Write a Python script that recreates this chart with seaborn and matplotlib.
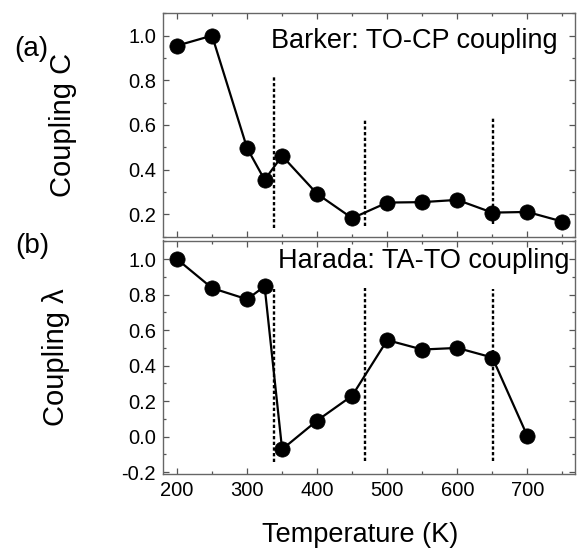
import matplotlib
matplotlib.use("Agg")
import matplotlib.pyplot as plt
from matplotlib.ticker import MultipleLocator, FormatStrFormatter
import seaborn as sns
import pandas as pd

temp_a = [200, 250, 300, 325, 350, 400, 450, 500, 550, 600, 650, 700, 750]
coupling_c = [0.955, 1.0, 0.496, 0.354, 0.461, 0.291, 0.182, 0.252, 0.254, 0.264, 0.207, 0.21, 0.167]
temp_b = [200, 250, 300, 325, 350, 400, 450, 500, 550, 600, 650, 700]
coupling_l = [1.0, 0.837, 0.774, 0.847, -0.071, 0.091, 0.231, 0.544, 0.491, 0.50, 0.446, 0.004]
vlines_x = [338, 469, 651]
vlines_a = [(0.137, 0.819), (0.145, 0.627), (0.157, 0.634)]
vlines_b = [(-0.142, 0.834), (-0.136, 0.838), (-0.136, 0.834)]

sns.set_style("ticks")
plt.rcParams['font.family'] = ['Liberation Sans', 'DejaVu Sans']
plt.rcParams['text.color'] = 'black'
plt.rcParams['axes.labelcolor'] = 'black'
plt.rcParams['xtick.labelcolor'] = 'black'
plt.rcParams['ytick.labelcolor'] = 'black'

W, H = 577, 548
fig = plt.figure(figsize=(W / 100, H / 100), dpi=100)
L, R = 163, 575
ax1 = fig.add_axes([L / W, 1 - 236.5 / H, (R - L) / W, (236.5 - 13.3) / H])
ax2 = fig.add_axes([L / W, 1 - 474 / H, (R - L) / W, (474 - 240.5) / H])

dfa = pd.DataFrame({"T": temp_a, "v": coupling_c})
dfb = pd.DataFrame({"T": temp_b, "v": coupling_l})
for ax, df in [(ax1, dfa), (ax2, dfb)]:
    sns.lineplot(data=df, x="T", y="v", ax=ax, color="black", lw=1.6,
                 marker="o", markersize=11, markeredgecolor="black",
                 markeredgewidth=0.5, sort=False)

for x, (y0, y1) in zip(vlines_x, vlines_a):
    ax1.plot([x, x], [y0, y1], ls=(0, (1.4, 1.0)), color="black", lw=1.7)
for x, (y0, y1) in zip(vlines_x, vlines_b):
    ax2.plot([x, x], [y0, y1], ls=(0, (1.4, 1.0)), color="black", lw=1.7)

ax1.set_ylim(0.1, 1.1)
ax2.set_ylim(-0.21, 1.105)
for ax in (ax1, ax2):
    ax.set_xlim(180, 768)
    ax.xaxis.set_major_locator(MultipleLocator(100))
    ax.xaxis.set_minor_locator(MultipleLocator(50))
    ax.yaxis.set_major_locator(MultipleLocator(0.2))
    ax.yaxis.set_minor_locator(MultipleLocator(0.1))
    ax.yaxis.set_major_formatter(FormatStrFormatter("%.1f"))
    ax.tick_params(which="both", direction="in", top=True, right=True,
                   labelsize=14.5, color="#555555", labelcolor="black", pad=5)
    ax.tick_params(which="major", length=4, width=0.9)
    ax.tick_params(which="minor", length=2, width=0.9)
    for s in ax.spines.values():
        s.set_color("#666666")
        s.set_linewidth(1.0)
    ax.set_xlabel("")
    ax.set_ylabel("")

ax1.set_xticklabels([])
ax2.set_xticks([200, 300, 400, 500, 600, 700])

ax2.set_xlabel("Temperature (K)", fontsize=19.5, color="black")
ax2.xaxis.set_label_coords((360 - L) / (R - L), (474 - 522) / (474 - 240.5))
ax1.set_ylabel("Coupling C", fontsize=21, color="black")
ax1.yaxis.set_label_coords((77 - L) / (R - L), 0.5)
ax2.set_ylabel("Coupling λ", fontsize=21, color="black")
ax2.yaxis.set_label_coords((70 - L) / (R - L), 0.5)

fig.text(558 / W, 1 - 41 / H, "Barker: TO-CP coupling", ha="right", va="center", fontsize=19.5)
fig.text(569 / W, 1 - 261 / H, "Harada: TA-TO coupling", ha="right", va="center", fontsize=19.5)
fig.text(14 / W, 1 - 49 / H, "(a)", fontsize=20, va="center", ha="left")
fig.text(15 / W, 1 - 246 / H, "(b)", fontsize=20, va="center", ha="left")

fig.savefig("out.png", dpi=100)
